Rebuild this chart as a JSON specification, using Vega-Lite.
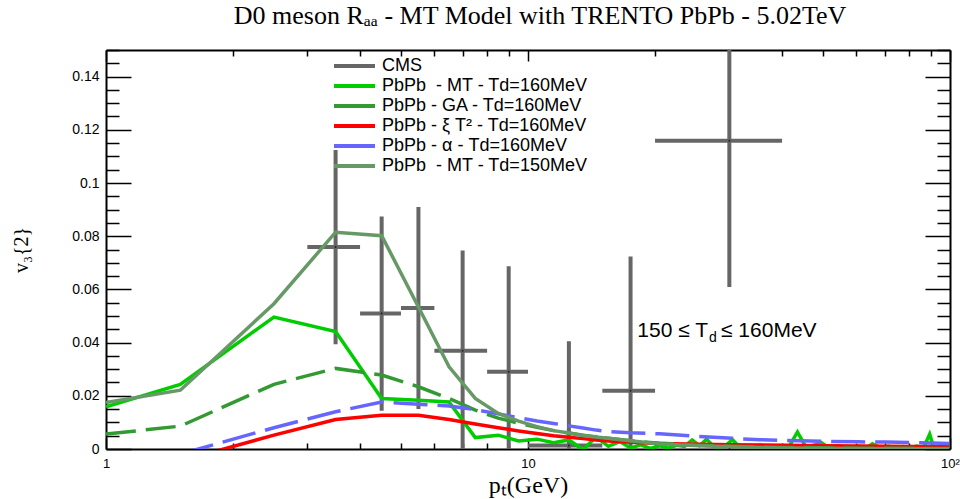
{
  "$schema": "https://vega.github.io/schema/vega-lite/v6.json",
  "width": 844,
  "height": 399,
  "autosize": "none",
  "padding": {"left": 106, "top": 50, "right": 10, "bottom": 50},
  "background": "white",
  "title": {
    "text": "D0 meson Rₐₐ - MT Model with TRENTO PbPb - 5.02TeV",
    "font": "Liberation Serif",
    "fontSize": 26,
    "fontWeight": "normal",
    "color": "#000",
    "anchor": "middle",
    "frame": "group",
    "offset": 20,
    "dx": 12
  },
  "datasets": {
    "cms": [
      {"model": "CMS", "pt": 3.5, "v3": 0.0759, "xlo": 3, "xhi": 4, "ylo": 0.0394, "yhi": 0.1124},
      {"model": "CMS", "pt": 4.5, "v3": 0.0509, "xlo": 4, "xhi": 5, "ylo": 0.0144, "yhi": 0.0874},
      {"model": "CMS", "pt": 5.5, "v3": 0.053, "xlo": 5, "xhi": 6, "ylo": 0.015, "yhi": 0.091},
      {"model": "CMS", "pt": 7, "v3": 0.0369, "xlo": 6, "xhi": 8, "ylo": -0.0008, "yhi": 0.0746},
      {"model": "CMS", "pt": 9, "v3": 0.029, "xlo": 8, "xhi": 10, "ylo": -0.0107, "yhi": 0.0687},
      {"model": "CMS", "pt": 12.5, "v3": 0.0013, "xlo": 10, "xhi": 15, "ylo": -0.0379, "yhi": 0.0405},
      {"model": "CMS", "pt": 17.5, "v3": 0.0219, "xlo": 15, "xhi": 20, "ylo": -0.0286, "yhi": 0.0724},
      {"model": "CMS", "pt": 30, "v3": 0.1159, "xlo": 20, "xhi": 40, "ylo": 0.0609, "yhi": 0.1709}
    ],
    "models": [
      {"model": "MT160", "pt": 1, "v3": 0.0159},
      {"model": "MT160", "pt": 1.5, "v3": 0.0243},
      {"model": "MT160", "pt": 2.5, "v3": 0.0496},
      {"model": "MT160", "pt": 3.5, "v3": 0.0442},
      {"model": "MT160", "pt": 4.5, "v3": 0.019},
      {"model": "MT160", "pt": 5.5, "v3": 0.0183},
      {"model": "MT160", "pt": 6.5, "v3": 0.0177},
      {"model": "MT160", "pt": 7.5, "v3": 0.0043},
      {"model": "MT160", "pt": 8.5, "v3": 0.0052},
      {"model": "MT160", "pt": 9.5, "v3": 0.003},
      {"model": "MT160", "pt": 10.5, "v3": 0.0037},
      {"model": "MT160", "pt": 11.5, "v3": 0.0024},
      {"model": "MT160", "pt": 12.5, "v3": 0.0034},
      {"model": "MT160", "pt": 13.5, "v3": -0.0003},
      {"model": "MT160", "pt": 14.5, "v3": 0.0046},
      {"model": "MT160", "pt": 15.5, "v3": 0.001},
      {"model": "MT160", "pt": 16.5, "v3": 0.0028},
      {"model": "MT160", "pt": 17.5, "v3": 0.0004},
      {"model": "MT160", "pt": 18.5, "v3": 0.0016},
      {"model": "MT160", "pt": 19.5, "v3": 0.0002},
      {"model": "MT160", "pt": 20.5, "v3": 0.0012},
      {"model": "MT160", "pt": 21.5, "v3": 0.0003},
      {"model": "MT160", "pt": 22.5, "v3": 0.0014},
      {"model": "MT160", "pt": 23.5, "v3": 0.001},
      {"model": "MT160", "pt": 24.5, "v3": 0.0034},
      {"model": "MT160", "pt": 25.5, "v3": 0.0012},
      {"model": "MT160", "pt": 26.5, "v3": 0.0037},
      {"model": "MT160", "pt": 27.5, "v3": 0.001},
      {"model": "MT160", "pt": 28.5, "v3": 0.0008},
      {"model": "MT160", "pt": 29.5, "v3": 0.0015},
      {"model": "MT160", "pt": 30.5, "v3": 0.0035},
      {"model": "MT160", "pt": 31.5, "v3": 0.0012},
      {"model": "MT160", "pt": 33.5, "v3": 0.0006},
      {"model": "MT160", "pt": 35.5, "v3": 0.0015},
      {"model": "MT160", "pt": 37.5, "v3": 0.0004},
      {"model": "MT160", "pt": 39.5, "v3": 0.0012},
      {"model": "MT160", "pt": 41.5, "v3": 0.0007},
      {"model": "MT160", "pt": 43.5, "v3": 0.0064},
      {"model": "MT160", "pt": 45.5, "v3": 0.0009},
      {"model": "MT160", "pt": 47.5, "v3": 0.0014},
      {"model": "MT160", "pt": 49.5, "v3": 0.0025},
      {"model": "MT160", "pt": 51.5, "v3": 0.0006},
      {"model": "MT160", "pt": 54.5, "v3": 0.0012},
      {"model": "MT160", "pt": 57.5, "v3": 0.0004},
      {"model": "MT160", "pt": 60.5, "v3": 0.0011},
      {"model": "MT160", "pt": 63.5, "v3": 0.0005},
      {"model": "MT160", "pt": 65.5, "v3": 0.002},
      {"model": "MT160", "pt": 68.5, "v3": 0.0004},
      {"model": "MT160", "pt": 71.5, "v3": 0.001},
      {"model": "MT160", "pt": 74.5, "v3": 0.0003},
      {"model": "MT160", "pt": 77.5, "v3": 0.0009},
      {"model": "MT160", "pt": 80.5, "v3": 0.0005},
      {"model": "MT160", "pt": 83.5, "v3": 0.0011},
      {"model": "MT160", "pt": 86.5, "v3": 0.0004},
      {"model": "MT160", "pt": 89.5, "v3": 0.0056},
      {"model": "MT160", "pt": 91.5, "v3": 0.0006},
      {"model": "MT160", "pt": 94.5, "v3": 0.001},
      {"model": "MT160", "pt": 97.5, "v3": 0.0004},
      {"model": "MT160", "pt": 99.5, "v3": 0.0012},
      {"model": "GA160", "pt": 1, "v3": 0.0056},
      {"model": "GA160", "pt": 1.5, "v3": 0.0086},
      {"model": "GA160", "pt": 2.5, "v3": 0.0243},
      {"model": "GA160", "pt": 3.5, "v3": 0.0303},
      {"model": "GA160", "pt": 4.5, "v3": 0.0278},
      {"model": "GA160", "pt": 5.5, "v3": 0.0234},
      {"model": "GA160", "pt": 6.5, "v3": 0.019},
      {"model": "GA160", "pt": 7.5, "v3": 0.0146},
      {"model": "GA160", "pt": 8.5, "v3": 0.0116},
      {"model": "GA160", "pt": 9.5, "v3": 0.0097},
      {"model": "GA160", "pt": 10.5, "v3": 0.0082},
      {"model": "GA160", "pt": 11.5, "v3": 0.0069},
      {"model": "GA160", "pt": 12.5, "v3": 0.006},
      {"model": "GA160", "pt": 13.5, "v3": 0.0052},
      {"model": "GA160", "pt": 14.5, "v3": 0.0045},
      {"model": "GA160", "pt": 15.5, "v3": 0.004},
      {"model": "GA160", "pt": 17.5, "v3": 0.0031},
      {"model": "GA160", "pt": 20.5, "v3": 0.0022},
      {"model": "GA160", "pt": 25.5, "v3": 0.0014},
      {"model": "GA160", "pt": 30.5, "v3": 0.001},
      {"model": "GA160", "pt": 40.5, "v3": 0.0006},
      {"model": "GA160", "pt": 60.5, "v3": 0.0003},
      {"model": "GA160", "pt": 99.5, "v3": 0.0002},
      {"model": "XI160", "pt": 1.5, "v3": -0.0045},
      {"model": "XI160", "pt": 2.5, "v3": 0.0052},
      {"model": "XI160", "pt": 3.5, "v3": 0.0111},
      {"model": "XI160", "pt": 4.5, "v3": 0.0127},
      {"model": "XI160", "pt": 5.5, "v3": 0.0127},
      {"model": "XI160", "pt": 6.5, "v3": 0.0111},
      {"model": "XI160", "pt": 7.5, "v3": 0.0094},
      {"model": "XI160", "pt": 8.5, "v3": 0.008},
      {"model": "XI160", "pt": 9.5, "v3": 0.0068},
      {"model": "XI160", "pt": 10.5, "v3": 0.0058},
      {"model": "XI160", "pt": 11.5, "v3": 0.005},
      {"model": "XI160", "pt": 12.5, "v3": 0.0044},
      {"model": "XI160", "pt": 13.5, "v3": 0.0039},
      {"model": "XI160", "pt": 14.5, "v3": 0.0034},
      {"model": "XI160", "pt": 15.5, "v3": 0.003},
      {"model": "XI160", "pt": 17.5, "v3": 0.0025},
      {"model": "XI160", "pt": 20.5, "v3": 0.0021},
      {"model": "XI160", "pt": 25.5, "v3": 0.0018},
      {"model": "XI160", "pt": 30.5, "v3": 0.0016},
      {"model": "XI160", "pt": 35.5, "v3": 0.0015},
      {"model": "XI160", "pt": 40.5, "v3": 0.0014},
      {"model": "XI160", "pt": 50.5, "v3": 0.0012},
      {"model": "XI160", "pt": 60.5, "v3": 0.0011},
      {"model": "XI160", "pt": 70.5, "v3": 0.001},
      {"model": "XI160", "pt": 80.5, "v3": 0.0009},
      {"model": "XI160", "pt": 90.5, "v3": 0.0009},
      {"model": "XI160", "pt": 99.5, "v3": 0.0008},
      {"model": "AL160", "pt": 1.5, "v3": -0.0019},
      {"model": "AL160", "pt": 2.5, "v3": 0.008},
      {"model": "AL160", "pt": 3.5, "v3": 0.014},
      {"model": "AL160", "pt": 4.5, "v3": 0.0177},
      {"model": "AL160", "pt": 5.5, "v3": 0.0168},
      {"model": "AL160", "pt": 6.5, "v3": 0.0162},
      {"model": "AL160", "pt": 7.5, "v3": 0.0148},
      {"model": "AL160", "pt": 8.5, "v3": 0.0132},
      {"model": "AL160", "pt": 9.5, "v3": 0.0118},
      {"model": "AL160", "pt": 10.5, "v3": 0.0105},
      {"model": "AL160", "pt": 11.5, "v3": 0.0096},
      {"model": "AL160", "pt": 12.5, "v3": 0.0087},
      {"model": "AL160", "pt": 13.5, "v3": 0.0079},
      {"model": "AL160", "pt": 14.5, "v3": 0.0071},
      {"model": "AL160", "pt": 15.5, "v3": 0.0066},
      {"model": "AL160", "pt": 17.5, "v3": 0.0061},
      {"model": "AL160", "pt": 20.5, "v3": 0.0057},
      {"model": "AL160", "pt": 25.5, "v3": 0.0047},
      {"model": "AL160", "pt": 30.5, "v3": 0.004},
      {"model": "AL160", "pt": 35.5, "v3": 0.0035},
      {"model": "AL160", "pt": 40.5, "v3": 0.0032},
      {"model": "AL160", "pt": 50.5, "v3": 0.0029},
      {"model": "AL160", "pt": 60.5, "v3": 0.0027},
      {"model": "AL160", "pt": 70.5, "v3": 0.0026},
      {"model": "AL160", "pt": 80.5, "v3": 0.0024},
      {"model": "AL160", "pt": 90.5, "v3": 0.0023},
      {"model": "AL160", "pt": 99.5, "v3": 0.0021},
      {"model": "MT150", "pt": 1, "v3": 0.0175},
      {"model": "MT150", "pt": 1.5, "v3": 0.0221},
      {"model": "MT150", "pt": 2.5, "v3": 0.0546},
      {"model": "MT150", "pt": 3.5, "v3": 0.0815},
      {"model": "MT150", "pt": 4.5, "v3": 0.0802},
      {"model": "MT150", "pt": 5.5, "v3": 0.0534},
      {"model": "MT150", "pt": 6.5, "v3": 0.0309},
      {"model": "MT150", "pt": 7.5, "v3": 0.019},
      {"model": "MT150", "pt": 8.5, "v3": 0.0134},
      {"model": "MT150", "pt": 9.5, "v3": 0.0105},
      {"model": "MT150", "pt": 10.5, "v3": 0.0084},
      {"model": "MT150", "pt": 11.5, "v3": 0.0069},
      {"model": "MT150", "pt": 12.5, "v3": 0.006},
      {"model": "MT150", "pt": 13.5, "v3": 0.0051},
      {"model": "MT150", "pt": 14.5, "v3": 0.0045},
      {"model": "MT150", "pt": 15.5, "v3": 0.004},
      {"model": "MT150", "pt": 17.5, "v3": 0.0031},
      {"model": "MT150", "pt": 20.5, "v3": 0.0019},
      {"model": "MT150", "pt": 25.5, "v3": 0.0012},
      {"model": "MT150", "pt": 30.5, "v3": 0.0008},
      {"model": "MT150", "pt": 40.5, "v3": 0.0004},
      {"model": "MT150", "pt": 60.5, "v3": 0.0002},
      {"model": "MT150", "pt": 99.5, "v3": 0.0001}
    ]
  },
  "layer": [
    {
      "data": {"name": "cms"},
      "mark": {"type": "rule", "clip": true, "strokeWidth": 4},
      "encoding": {
        "x": {
          "field": "pt", "type": "quantitative",
          "scale": {"type": "log", "domain": [1, 100]},
          "axis": {
            "orient": "bottom",
            "values": [1, 2, 3, 4, 5, 6, 7, 8, 9, 10, 20, 30, 40, 50, 60, 70, 80, 90, 100],
            "labelExpr": "datum.value == 1 ? '1' : datum.value == 10 ? '10' : datum.value == 100 ? '10²' : ''",
            "tickSize": {"condition": {"test": "datum.value == 1 || datum.value == 10 || datum.value == 100", "value": -11}, "value": -6},
            "labelPadding": 19,
            "labelFontSize": 13,
            "labelFlush": false,
            "title": "pₜ(GeV)",
            "titleFontSize": 24,
            "titlePadding": 3
          }
        },
        "y": {
          "field": "ylo", "type": "quantitative",
          "scale": {"domain": [0, 0.15], "nice": false, "zero": false},
          "axis": {
            "orient": "left",
            "values": [0, 0.005, 0.01, 0.015, 0.02, 0.025, 0.03, 0.035, 0.04, 0.045, 0.05, 0.055, 0.06, 0.065, 0.07, 0.075, 0.08, 0.085, 0.09, 0.095, 0.1, 0.105, 0.11, 0.115, 0.12, 0.125, 0.13, 0.135, 0.14, 0.145, 0.15],
            "labelExpr": "abs(datum.value * 50 - round(datum.value * 50)) < 0.01 && datum.value < 0.149 ? format(datum.value, '~g') : ''",
            "tickSize": {"condition": {"test": "abs(datum.value * 50 - round(datum.value * 50)) < 0.01", "value": -25}, "value": -13},
            "labelPadding": 32,
            "labelFontSize": 14,
            "title": "v₃{2}",
            "titleFontSize": 20,
            "titlePadding": 40
          }
        },
        "y2": {"field": "yhi"},
        "color": {
          "field": "model", "type": "nominal",
          "scale": {
            "domain": ["CMS", "MT160", "GA160", "XI160", "AL160", "MT150"],
            "range": ["#666666", "#00cc00", "#339933", "#ff0000", "#6666ff", "#669966"]
          },
          "legend": {
            "orient": "none",
            "legendX": 226,
            "legendY": 6,
            "title": null,
            "symbolType": "stroke",
            "symbolSize": 1681,
            "symbolStrokeWidth": 4,
            "clipHeight": 19.8,
            "rowPadding": 0,
            "padding": 0,
            "labelOffset": 5,
            "labelFont": "Liberation Sans",
            "labelFontSize": 18,
            "labelColor": "#000",
            "labelLimit": 400,
            "labelExpr": "datum.value == 'CMS' ? 'CMS' : datum.value == 'MT160' ? 'PbPb\u00a0 - MT - Td=160MeV' : datum.value == 'GA160' ? 'PbPb - GA - Td=160MeV' : datum.value == 'XI160' ? 'PbPb - ξ T² - Td=160MeV' : datum.value == 'AL160' ? 'PbPb - α - Td=160MeV' : 'PbPb\u00a0 - MT - Td=150MeV'"
          }
        }
      }
    },
    {
      "data": {"name": "cms"},
      "mark": {"type": "rule", "clip": true, "strokeWidth": 4},
      "encoding": {
        "x": {
          "field": "xlo", "type": "quantitative",
          "scale": {"type": "log", "domain": [1, 100]},
          "axis": {
            "orient": "top",
            "values": [1, 2, 3, 4, 5, 6, 7, 8, 9, 10, 20, 30, 40, 50, 60, 70, 80, 90, 100],
            "labels": false,
            "tickSize": {"condition": {"test": "datum.value == 1 || datum.value == 10 || datum.value == 100", "value": -11}, "value": -6},
            "title": null
          }
        },
        "x2": {"field": "xhi"},
        "y": {
          "field": "v3", "type": "quantitative",
          "scale": {"domain": [0, 0.15], "nice": false, "zero": false},
          "axis": {
            "orient": "right",
            "values": [0, 0.005, 0.01, 0.015, 0.02, 0.025, 0.03, 0.035, 0.04, 0.045, 0.05, 0.055, 0.06, 0.065, 0.07, 0.075, 0.08, 0.085, 0.09, 0.095, 0.1, 0.105, 0.11, 0.115, 0.12, 0.125, 0.13, 0.135, 0.14, 0.145, 0.15],
            "labels": false,
            "tickSize": {"condition": {"test": "abs(datum.value * 50 - round(datum.value * 50)) < 0.01", "value": -25}, "value": -13},
            "title": null
          }
        },
        "color": {"field": "model", "type": "nominal"}
      }
    },
    {
      "data": {"name": "cms"},
      "mark": {"type": "point", "filled": true, "size": 4, "color": "#000", "clip": true},
      "encoding": {
        "x": {"field": "pt", "type": "quantitative", "axis": null},
        "y": {"field": "v3", "type": "quantitative", "axis": null}
      }
    },
    {
      "data": {"name": "models"},
      "transform": [{"filter": "datum.model == 'MT160' || datum.model == 'XI160'"}],
      "mark": {"type": "line", "clip": true, "strokeWidth": 3.5},
      "encoding": {
        "x": {"field": "pt", "type": "quantitative", "axis": null},
        "y": {"field": "v3", "type": "quantitative", "axis": null},
        "color": {"field": "model", "type": "nominal"},
        "order": {"field": "pt", "type": "quantitative"}
      }
    },
    {
      "data": {"name": "models"},
      "transform": [{"filter": "datum.model == 'GA160'"}],
      "mark": {"type": "line", "clip": true, "strokeWidth": 3.5, "strokeDash": [30, 10]},
      "encoding": {
        "x": {"field": "pt", "type": "quantitative", "axis": null},
        "y": {"field": "v3", "type": "quantitative", "axis": null},
        "color": {"field": "model", "type": "nominal"},
        "order": {"field": "pt", "type": "quantitative"}
      }
    },
    {
      "data": {"name": "models"},
      "transform": [{"filter": "datum.model == 'AL160'"}],
      "mark": {"type": "line", "clip": true, "strokeWidth": 3.5, "strokeDash": [34, 10]},
      "encoding": {
        "x": {"field": "pt", "type": "quantitative", "axis": null},
        "y": {"field": "v3", "type": "quantitative", "axis": null},
        "color": {"field": "model", "type": "nominal"},
        "order": {"field": "pt", "type": "quantitative"}
      }
    },
    {
      "data": {"name": "models"},
      "transform": [{"filter": "datum.model == 'MT150'"}],
      "mark": {"type": "line", "clip": true, "strokeWidth": 3.5},
      "encoding": {
        "x": {"field": "pt", "type": "quantitative", "axis": null},
        "y": {"field": "v3", "type": "quantitative", "axis": null},
        "color": {"field": "model", "type": "nominal"},
        "order": {"field": "pt", "type": "quantitative"}
      }
    },
    {
      "data": {"values": [{}]},
      "mark": {"type": "text", "text": "150 ≤ T", "align": "right", "baseline": "alphabetic", "font": "Liberation Sans", "fontSize": 21, "color": "#000"},
      "encoding": {
        "x": {"datum": 26.7, "type": "quantitative", "axis": null},
        "y": {"datum": 0.042, "type": "quantitative", "axis": null}
      }
    },
    {
      "data": {"values": [{}]},
      "mark": {"type": "text", "text": "d", "align": "left", "baseline": "alphabetic", "dx": 1, "dy": 5, "font": "Liberation Sans", "fontSize": 14, "color": "#000"},
      "encoding": {
        "x": {"datum": 26.7, "type": "quantitative", "axis": null},
        "y": {"datum": 0.042, "type": "quantitative", "axis": null}
      }
    },
    {
      "data": {"values": [{}]},
      "mark": {"type": "text", "text": "≤ 160MeV", "align": "left", "baseline": "alphabetic", "dx": 13, "font": "Liberation Sans", "fontSize": 21, "color": "#000"},
      "encoding": {
        "x": {"datum": 26.7, "type": "quantitative", "axis": null},
        "y": {"datum": 0.042, "type": "quantitative", "axis": null}
      }
    }
  ],
  "resolve": {"axis": {"x": "independent", "y": "independent"}},
  "config": {
    "view": {"stroke": null},
    "axis": {
      "domainColor": "#000",
      "domainWidth": 2,
      "tickColor": "#000",
      "tickWidth": 1.5,
      "grid": false,
      "labelFont": "Liberation Sans",
      "labelColor": "#000",
      "titleFont": "Liberation Serif",
      "titleFontWeight": "normal",
      "titleColor": "#000"
    }
  }
}
